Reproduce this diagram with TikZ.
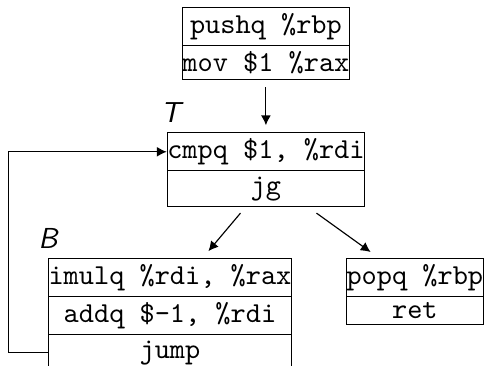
\documentclass[tikz,border=0pt]{standalone}
\usepackage{tikz}
\usetikzlibrary{arrows.meta,positioning,shapes.multipart}

\begin{document}
\begin{tikzpicture}[>={Latex[length=3.4pt,width=3.4pt]},
	bloque/.style = {draw, rectangle split, rectangle split parts=#1, font=\ttfamily, inner xsep=0pt, inner ysep=1.8pt},
	etiqueta/.style = {font=\sffamily\itshape, inner sep=0pt},
	flecha/.style = {->, shorten >=2.4pt, shorten <=2.4pt}]
	\useasboundingbox (0,0) rectangle (167.8pt,-126.6pt);
	% bloques de instrucciones
	\node[bloque=2, anchor=north] (entrada) at (92pt,-2.4pt) {pushq \%rbp\nodepart{two}mov \$1 \%rax};
	\node[bloque=2, below=18pt of entrada] (prueba) {cmpq \$1, \%rdi\nodepart{two}jg};
	\node[bloque=3, anchor=north west] (cuerpo) at (16.6pt,-89.3pt) {imulq \%rdi, \%rax\nodepart{two}addq \$-1, \%rdi\nodepart{three}jump};
	\node[bloque=2, anchor=north west] (salida) at (119.7pt,-89.3pt) {popq \%rbp\nodepart{two}ret};
	\node[etiqueta, above=3pt of prueba.north west, xshift=1.4pt] (T) {T};
	\node[etiqueta, above=3pt of cuerpo.north west] (B) {B};
	% flechas
	\draw[flecha] (entrada) -- (prueba);
	\draw[->] ([xshift=-8.8pt,yshift=-2.1pt]prueba.south) -- ([xshift=13.3pt,yshift=2.4pt]cuerpo.north);
	\draw[->] ([xshift=17.5pt,yshift=-2.1pt]prueba.south) -- ([xshift=-15.3pt,yshift=2.1pt]salida.north);
	\coordinate (retorno) at (2.8pt,0);   % lazo de vuelta
	\draw[->] (cuerpo.three west) -- (cuerpo.three west -| retorno) |- (prueba.text west);
\end{tikzpicture}
\end{document}
